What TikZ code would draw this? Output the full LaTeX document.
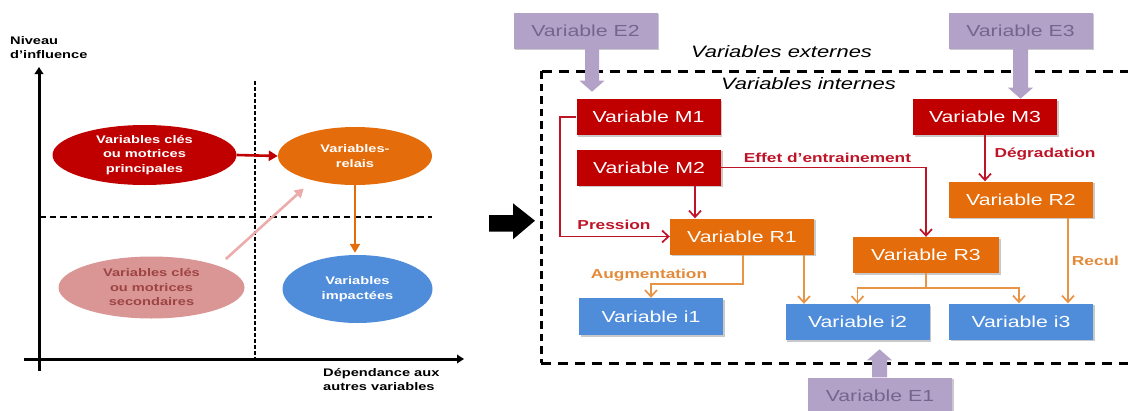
\documentclass[tikz,border=0pt]{standalone}
\usepackage{fontspec}
\setmainfont{Liberation Sans}[FakeStretch=1.33]
\usetikzlibrary{arrows.meta,shapes.geometric,shadows,calc}

\definecolor{motrice}{RGB}{192,0,0}
\definecolor{relaiscol}{RGB}{228,108,10}
\definecolor{impact}{RGB}{79,141,219}
\definecolor{externe}{RGB}{179,162,199}
\definecolor{externetxt}{RGB}{118,100,142}
\definecolor{secondcol}{RGB}{217,150,148}
\definecolor{secondtxt}{RGB}{158,68,68}
\definecolor{secondarrow}{RGB}{236,172,172}
\definecolor{lienrouge}{RGB}{190,20,40}
\definecolor{lienorange}{RGB}{232,148,70}
\definecolor{lblorange}{RGB}{226,138,58}

\tikzset{
  box/.style={rectangle, minimum width=144pt, minimum height=36pt, inner sep=0pt,
    font=\fontsize{16}{19}\selectfont, text=white,
    drop shadow={shadow xshift=1.5pt, shadow yshift=-1.5pt, opacity=0.3, fill=black!70}},
  mbox/.style={box, fill=motrice},
  rbox/.style={box, fill=relaiscol},
  ibox/.style={box, fill=impact},
  ebox/.style={box, fill=externe, text=externetxt},
  ell/.style={ellipse, inner sep=0pt, align=center, text=white,
    font=\fontsize{11}{14.5}\selectfont\bfseries},
  axislbl/.style={anchor=base west, inner sep=0pt, font=\fontsize{11}{13}\selectfont\bfseries},
  redlink/.style={draw=lienrouge, line width=1.7pt, -{Straight Barb[length=6.5pt 0,width=12pt 0]}},
  orlink/.style={draw=lienorange, line width=1.7pt, -{Straight Barb[length=6.5pt 0,width=12pt 0]}},
  orline/.style={draw=lienorange, line width=1.7pt},
  redlbl/.style={anchor=base, inner sep=0pt, text=lienrouge, font=\fontsize{13}{15}\selectfont\bfseries},
  orlbl/.style={anchor=base, inner sep=0pt, text=lblorange, font=\fontsize{13}{15}\selectfont\bfseries},
  zonelbl/.style={anchor=base, inner sep=0pt, font=\fontsize{16.5}{19}\selectfont\itshape},
  bigtip/.style={-{Triangle[length=9pt 0,width=10pt 0]}},
}

\begin{document}
\begin{tikzpicture}[x=1pt,y=-1pt]
\useasboundingbox (0,0) rectangle (1128,410);

% ---------- influence / dependence map ----------
\node[axislbl] (niv1) at (10,44) {Niveau};
\node[axislbl] (niv2) at (10,58) {d’influence};
\node[axislbl] (dep1) at (323,376.5) {Dépendance aux};
\node[axislbl] (dep2) at (323,390.5) {autres variables};

\draw[line width=3pt, -{Triangle[length=7pt 0,width=8.5pt 0]}] (39,371) -- (39,67);
\draw[line width=3pt, -{Triangle[length=7pt 0,width=8.5pt 0]}] (24,359) -- (464,359);
\draw[line width=2pt, dash pattern=on 3.5pt off 2.5pt] (255,81) -- (255,358);
\draw[line width=2pt, dash pattern=on 6.5pt off 4pt] (39,217) -- (432,217);

\node[ell, fill=motrice, minimum width=184pt, minimum height=60pt] (cles) at (144.5,155)
  {Variables clés\\ou motrices\\principales};
\node[ell, fill=relaiscol, minimum width=154pt, minimum height=58pt] (relais) at (355,156)
  {Variables-\\relais};
\node[ell, fill=secondcol, text=secondtxt, minimum width=186pt, minimum height=62pt] (second) at (151.5,287.5)
  {Variables clés\\ou motrices\\secondaires};
\node[ell, fill=impact, minimum width=150pt, minimum height=68pt] (impactees) at (357.5,289)
  {Variables\\impactées};

\draw[motrice, line width=2.6pt, bigtip] (cles.east) -- (relais.west);
\draw[relaiscol, line width=2.6pt, bigtip, shorten >=2pt] (relais.south) -- (relais.south |- impactees.north);
\draw[secondarrow, line width=2.6pt, bigtip, shorten <=10pt, shorten >=12pt] (second.18) -- (relais.210);

% ---------- transition arrow ----------
\fill (489,215) -- (513,215) -- (513,203.3) -- (535,220.7) -- (513,239.3) -- (513,231.7) -- (489,231.7) -- cycle;

% ---------- system of variables ----------
\draw[line width=3pt, dash pattern=on 10pt off 7pt] (1130,71) -- (541,71);
\draw[line width=3pt, dash pattern=on 10pt off 7pt] (541,363) -- (1130,363);
\draw[line width=3pt, dash pattern=on 7.5pt off 5pt] (541,71) -- (541,363);

\node[zonelbl] (ext) at (781.5,57) {Variables externes};
\node[zonelbl] (int) at (808.5,89.5) {Variables internes};

\node[ebox] (e2) at (585.5,30.5) {Variable E2};
\node[ebox] (e3) at (1020.5,30.5) {Variable E3};
\node[ebox] (e1) at (880,395.5) {Variable E1};

\node[mbox] (m1) at (648.5,117) {Variable M1};
\node[mbox] (m2) at (649,167.5) {Variable M2};
\node[mbox] (m3) at (985,117) {Variable M3};

\node[rbox] (r1) at (742,236.5) {Variable R1};
\node[rbox] (r2) at (1021,199.5) {Variable R2};
\node[rbox, minimum width=146pt] (r3) at (926,255) {Variable R3};

\node[ibox, minimum height=37pt] (i1) at (651,316.5) {Variable i1};
\node[ibox] (i2) at (857.5,322) {Variable i2};
\node[ibox] (i3) at (1021,321.5) {Variable i3};

% external influences (block arrows)
\fill[externe] ([xshift=6.5pt]e2.south) ++(-7,0) -- ++(0,32) -- ++(-5.5,0) -- ++(12.5,11)
  -- ++(12.5,-11) -- ++(-5.5,0) -- ++(0,-32) -- cycle;
\fill[externe] (e3.south) ++(-7.5,0) -- ++(0,39) -- ++(-5,0) -- ++(12.5,11)
  -- ++(12.5,-11) -- ++(-5,0) -- ++(0,-39) -- cycle;
\fill[externe] ([xshift=-0.5pt]e1.north) ++(-7.5,0) -- ++(0,-17) -- ++(-5,0) -- ++(12.5,-11)
  -- ++(12.5,11) -- ++(-5,0) -- ++(0,17) -- cycle;

% internal links
\draw[redlink] (m1.west) -- ++(-16,0) |- (r1.west);
\node[redlbl] (pression) at (614,229) {Pression};
\draw[redlink] ([xshift=46pt]m2.south) -- ([xshift=46pt]m2.south |- r1.north);
\draw[redlink] (m2.east) -| (r3.north);
\node[redlbl] (effet) at (827.5,162) {Effet d’entrainement};
\draw[redlink] (m3.south) -- (m3.south |- r2.north);
\node[redlbl] (degr) at (1045,157) {Dégradation};

\draw[orlink] ([xshift=1pt]r1.south) -- ++(0,29) -| (i1.north);
\node[orlbl] (augm) at (649,278) {Augmentation};
\draw[orlink] ([xshift=62pt]r1.south) -- ([xshift=62pt]r1.south |- i2.north);
\draw[orline] (r3.south) -- ++(0,15) coordinate (r3b);
\draw[orlink] (r3b) -| (i2.north);
\draw[orlink] (r3b) -| ([xshift=-2pt]i3.north);
\draw[orlink] ([xshift=47pt]r2.south) -- ([xshift=47pt]r2.south |- i3.north);
\node[orlbl] (recul) at (1095.5,265) {Recul};
\end{tikzpicture}
\end{document}
